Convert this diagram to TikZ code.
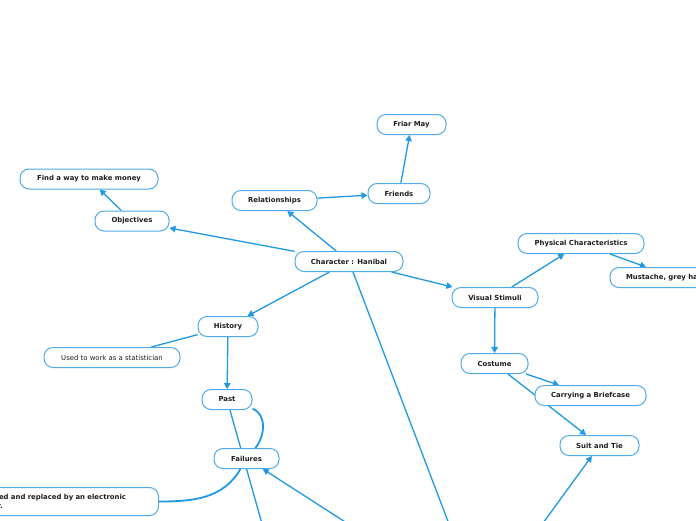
\documentclass[tikz,border=0pt]{standalone}
\usepackage{fontspec}
\setmainfont{DejaVu Sans}
\usetikzlibrary{arrows.meta,backgrounds}
\definecolor{boxblue}{RGB}{80,170,234}
\definecolor{linkblue}{RGB}{32,152,226}
\definecolor{txt}{RGB}{30,30,30}
\tikzset{
  mm/.style={draw=boxblue, line width=1pt, fill=white, rounded corners=9pt,
    minimum height=20pt, inner sep=0pt, text=txt,
    font=\fontsize{6.9}{8.6}\selectfont\bfseries},
  mmplain/.style={mm, font=\fontsize{6.9}{8.6}\selectfont},
  link/.style={draw=linkblue, line width=1.3pt},
  arr/.style={link, -{Triangle[length=6pt,width=6.5pt]}},
  curvelink/.style={draw=linkblue, line width=1.8pt}
}
\begin{document}
\begin{tikzpicture}[x=1pt,y=-1pt]
\useasboundingbox (0,0) rectangle (696,520);
\clip (0,0) rectangle (696,520);
% nodes
\node[mm, minimum width=69pt] (friar) at (411.5,124.5) {Friar May};
\node[mm, minimum width=138pt] (money) at (89,179) {Find a way to make money};
\node[mm, minimum width=85pt] (rel) at (274.5,200.5) {Relationships};
\node[mm, minimum width=62pt] (friends) at (399,193.5) {Friends};
\node[mm, minimum width=74pt] (obj) at (132,221) {Objectives};
\node[mm, minimum width=108pt] (char) at (349,261.5) {Character : Hanibal};
\node[mm, minimum width=126pt] (phys) at (581,243.5) {Physical Characteristics};
\node[mm, text width=98pt, align=left, inner xsep=16pt] (must) at (675,277.5) {Mustache, grey hair};
\node[mm, minimum width=86pt] (vis) at (495,297.5) {Visual Stimuli};
\node[mm, minimum width=60pt] (hist) at (228,326.5) {History};
\node[mmplain, minimum width=136pt] (used) at (112,357.5) {Used to work as a statistician};
\node[mm, minimum width=67pt] (cost) at (494.5,363.5) {Costume};
\node[mm, minimum width=50pt] (past) at (227,399.5) {Past};
\node[mm, minimum width=111pt] (brief) at (590.5,395.5) {Carrying a Briefcase};
\node[mm, minimum width=79pt] (suit) at (599.5,445.5) {Suit and Tie};
\node[mm, minimum width=65pt] (fail) at (246.5,458.5) {Failures};
\node[mm, anchor=east, text width=188pt, align=left, inner xsep=8pt, minimum height=28pt] (fired) at (159,501.5)
  {He got fired and replaced by an electronic\\calculator.};
% off-picture continuation points
\coordinate (b1) at (268,545);
\coordinate (b2) at (457,545);
\coordinate (b3) at (381,545);
\coordinate (b4) at (527,545);
\begin{scope}[on background layer]
\draw[arr] (char) -- (rel);
\draw[arr] (char) -- (obj);
\draw[arr] (rel) -- (friends);
\draw[arr] (friends) -- (friar);
\draw[arr] (obj) -- (money);
\draw[arr] (char) -- (vis);
\draw[arr] (vis) -- (phys);
\draw[arr] (phys) -- (must);
\draw[arr] (vis) -- (cost);
\draw[arr] (cost) -- (brief);
\draw[arr] (cost) -- (suit);
\draw[arr] (char) -- (hist);
\draw[link] (hist) -- (used);
\draw[arr] (hist) -- (past);
\draw[curvelink] (past) to[out=-20,in=50] (fail);
\draw[curvelink] (fail) to[out=-120,in=0] (fired);
\draw[link] (past) -- (b1);
\draw[link] (char) -- (b2);
\draw[arr] (b3) -- (fail);
\draw[arr] (b4) -- (suit);
\end{scope}
\end{tikzpicture}
\end{document}
